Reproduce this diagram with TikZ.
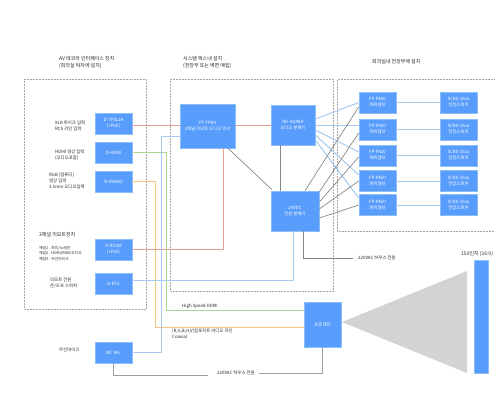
\documentclass[tikz,border=0pt]{standalone}
\usepackage{fontspec}
\setmainfont{Noto Sans CJK KR}
\definecolor{avblue}{RGB}{88,157,252}
\definecolor{avedge}{RGB}{140,190,250}
\definecolor{avlblue}{RGB}{165,202,240}
\definecolor{avlred}{RGB}{226,160,148}
\definecolor{avlgreen}{RGB}{176,214,150}
\definecolor{avlorange}{RGB}{244,196,128}
\definecolor{avgray}{RGB}{135,135,135}
\definecolor{avcone}{RGB}{211,211,211}
\usetikzlibrary{calc}
\begin{document}
\begin{tikzpicture}[x=1pt, y=-1pt,
  devbox/.style={rectangle, draw=avedge, line width=0.6pt, fill=avblue,
               minimum width=37pt, minimum height=21pt, inner sep=0pt,
               font=\fontsize{4.4}{6}\selectfont, align=center, text=white},
  note/.style={anchor=west, inner sep=0pt, align=left,
               font=\fontsize{4.4}{6.2}\selectfont, text=black!85},
  title/.style={anchor=west, inner sep=0pt, align=left,
               font=\fontsize{5}{7}\selectfont, text=black!85},
  zone/.style={draw=black!35, densely dotted, line width=0.5pt},
  blink/.style={draw=avlblue, line width=1pt},
  rlink/.style={draw=avlred, line width=1pt},
  glink/.style={draw=avlgreen, line width=1pt},
  olink/.style={draw=avlorange, line width=1pt},
  plink/.style={draw=avgray, line width=0.7pt}
]
\useasboundingbox (0,0) rectangle (495,400);

% Dotted zones
\draw[zone] (24,79) rectangle (146,309);
\draw[zone] (170,79) rectangle (333,291);
\draw[zone] (500,79) -- (337,79) -- (337,231) -- (500,231);

% Table devices
\node[devbox] (tpsl) at (113.5,123.5) {D-TPSL2A\\(+PoE)};
\node[devbox] (hdmi) at (113.5,152.5) {D-HDMI};
\node[devbox] (avms) at (113.5,181.5) {D-AVMS2};
\node[devbox] (rc3m) at (113.5,249.5) {D-RC3M\\(+PoE)};
\node[devbox] (rt2)  at (113.5,283.5) {D-RT2};
\node[devbox] (wmic) at (113.5,352.5) {Wl. Mic};

% Rack devices
\node[devbox, minimum width=55pt, minimum height=44pt] (mixer) at (207.5,126) {FP-TP8A\\2채널 리모트 오디오 믹서};
\node[devbox, minimum width=44pt, minimum height=40pt] (ada)   at (293,125)   {RU-ADA8D\\오디오 분배기};
\node[devbox, minimum width=48pt, minimum height=40pt] (psu)   at (295,211)   {24VDC\\전원 분배기};

% Amps and speakers
\foreach \idx/\ypos in {1/102.5, 2/129.5, 3/155.5, 4/181, 5/205} {
  \node[devbox] (amp\idx) at (377.5,\ypos) {FP-PA20\\파워앰프};
  \node[devbox] (spk\idx) at (458.5,\ypos) {SCRS-16ca\\천장스피커};
  \draw[blink] (amp\idx) -- (spk\idx);
}

% Projector and screen
\node[devbox, minimum height=45pt] (proj) at (322.5,324.5) {프로젝터};
\node[devbox, minimum width=14pt, minimum height=113pt] (screen) at (481,316.5) {};
\fill[avcone] (342,322) -- (467,271) -- (467,373) -- cycle;

% Source links
\draw[rlink] ([yshift=-1.5pt]tpsl.east) -- ([yshift=-1.5pt]tpsl.east -| mixer.west);
\draw[glink] (hdmi.east) -- (166,152.5) |- ([yshift=14.5pt]proj.west);
\draw[olink] (avms.east) -- (155,181.5) |- ([yshift=-2.5pt]proj.west);
\draw[blink] (wmic.east) -- (161,352.5) |- ([yshift=-10pt]mixer.west);
\draw[rlink] (rc3m.east) -| ([xshift=15.5pt]mixer.south);
\draw[blink] ([yshift=3.5pt]rt2.east) -| ([xshift=-2pt]psu.south);

% Mixer links
\draw[rlink] (mixer.east |- ada.west) -- (ada.west);
\draw[plink] ([xshift=20.5pt]mixer.south) -- ([xshift=-23pt,yshift=1pt]psu.north);
\draw[plink] ([xshift=-13pt]ada.south) -- ([xshift=-15pt]psu.north);

% Audio fan out
\draw[blink] ([yshift=6pt]ada.east) -- (amp1.west);
\draw[blink] (ada.east) -- ([yshift=4.5pt]amp2.west);
\draw[blink] ([yshift=-5pt]ada.east) -- ([yshift=3.5pt]amp3.west);
\draw[blink] ([yshift=-10pt]ada.east) -- ([yshift=6pt]amp4.west);
\draw[blink] ([yshift=-15pt]ada.east) -- ([yshift=7pt]amp5.west);

% Power fan out
\draw[plink] ([xshift=10pt]psu.north) -- ([yshift=-4.5pt]amp1.west);
\draw[plink] ([yshift=19pt]psu.east) -- ([yshift=-3.5pt]amp2.west);
\draw[plink] ([yshift=9pt]psu.east) -- ([yshift=-1.5pt]amp3.west);
\draw[plink] ([yshift=2pt]psu.east) -- (amp4.west);
\draw[plink] ([yshift=-7pt]psu.east) -- (amp5.west);

% House power
\node[note] (acrack) at (358,258) {220VAC 하우스 전원};
\node[note] (acproj) at (217,373) {220VAC 하우스 전원};
\draw[plink] ([xshift=8pt]psu.south) |- ([xshift=-5pt]acrack.west);
\draw[avgray!80, line width=1pt] (wmic.south) |- ([xshift=-9pt,yshift=-2pt]acproj.west);
\draw[avgray!80, line width=1pt] (proj.south) |- ([xshift=4pt]acproj.east);

% Labels
\node[title] (avtitle)  at (59,62)   {AV 데코라 인터페이스 장치\\(회의실 탁자에 설치)};
\node[title] (rktitle)  at (183,62)  {시스템 랙스내 설치\\(천장부 또는 벽면 매립)};
\node[title] (rmtitle)  at (372,62)  {회의실내 천장부에 설치};
\node[note]  (xlrlabel) at (55,126)  {XLR 마이크 입력\\RCS 라인 입력};
\node[note]  (hdlabel)  at (55,155)  {HDMI 영상 입력\\(오디오포함)};
\node[note]  (rgblabel) at (49,181)  {RGB (컴퓨터)\\영상 입력\\3.5mm 오디오입력};
\node[title] (rclabel)  at (39,235)  {3채널 리모트장치};
\node[note, font=\fontsize{3.8}{5.6}\selectfont] (chlabel) at (39,253.5) {채널1 : 회의/노래안\\채널2 : HDMI/RGB/오디오\\채널3 : 무선마이크};
\node[note]  (rtlabel)  at (50,283)  {리모트 전원\\온/오프 스위치};
\node[note]  (miclabel) at (59,350)  {무선마이크};
\node[note]  (hslabel)  at (182,306) {High Speed HDMI};
\node[note]  (cxlabel)  at (172,334) {(R,G,B,H,V)컴포지트 비디오 라인\\Coaxial};
\node[title] (scrlabel) at (461,254) {150인치 (16:9)};
\end{tikzpicture}
\end{document}
